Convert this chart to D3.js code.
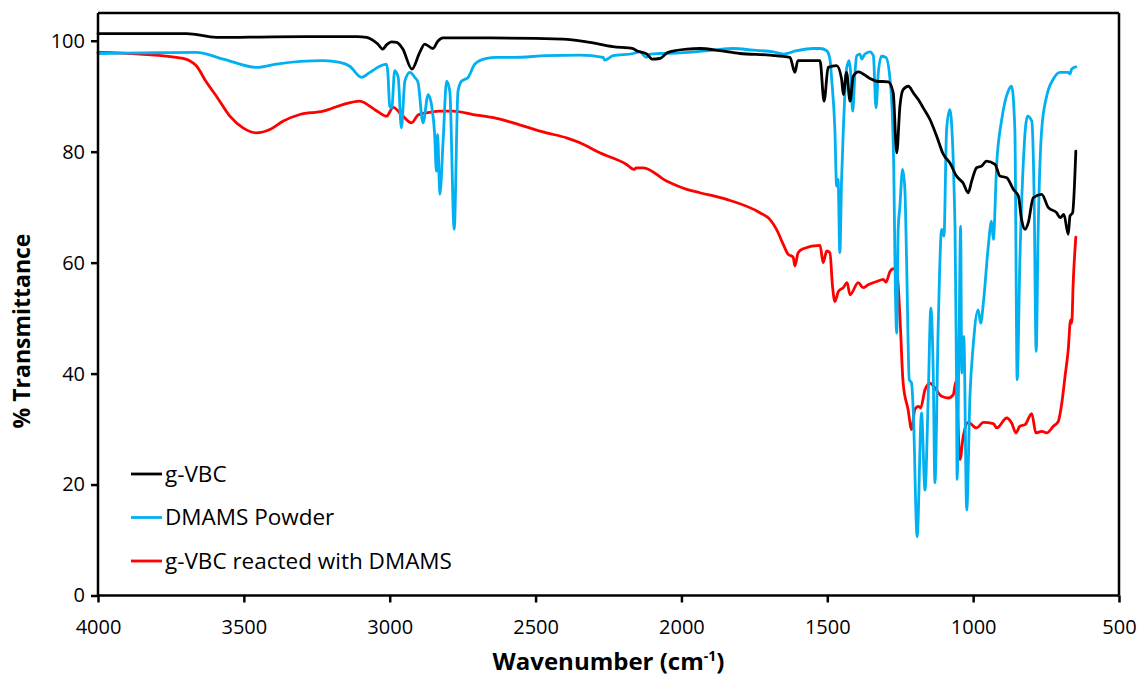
<!DOCTYPE html>
<html>
<head>
<meta charset="utf-8">
<script src="https://cdn.jsdelivr.net/npm/d3@7"></script>
<style>
  html, body { margin: 0; padding: 0; background: #fff; }
  svg { display: block; }
  text { font-family: "Open Sans", "Noto Sans", sans-serif; fill: #000; }
</style>
</head>
<body>
<svg id="chart" width="1143" height="678"></svg>
<script>
// FTIR spectra: wavenumber (cm-1) and % transmittance for each sample
const gvbcWn = [4000,3850,3696,3594,3400,3113,3079,3041,3024,3010,2993,2976,2955,2924,2897,2880,2852,2835,2818,2657,2406,2314,2235,2166,2153,2118,2101,2074,2046,1981,1937,1868,1800,1697,1628,1611,1601,1550,1525,1511,1497,1468,1451,1445,1434,1422,1411,1394,1354,1331,1291,1274,1262,1251,1240,1222,1205,1188,1171,1148,1125,1102,1080,1057,1034,1017,1005,988,971,954,925,908,885,862,845,834,822,811,794,765,742,714,702,689,674,668,659,648];
const gvbcT  = [101.3,101.3,101.3,100.6,100.7,100.75,100.6,99.4,98.5,99.3,99.8,99.7,98.5,94.9,97.9,99.4,98.6,99.9,100.5,100.5,100.3,99.7,98.95,98.6,98.2,97.6,96.7,96.8,97.9,98.5,98.6,98.2,97.7,97.4,97.0,94.3,96.4,96.4,96.4,89.1,95.2,95.5,93.1,90.3,94.3,89.1,93.6,94.4,93.2,92.7,92.6,90.6,79.8,88.2,91.2,91.8,90.6,89.4,87.9,85.8,82.8,79.5,78.0,75.6,74.3,72.6,74.7,77.1,77.4,78.3,77.7,75.6,75.3,73.2,72.0,67.8,66.0,67.2,71.7,72.3,69.9,69.0,68.1,68.7,65.1,68.4,69.0,80.1];

const dmamsWn = [4000,3850,3663,3571,3457,3388,3228,3171,3137,3097,3068,3034,3011,3006,3000,2993,2983,2971,2960,2948,2931,2914,2903,2886,2868,2857,2846,2840,2836,2828,2817,2805,2794,2779,2766,2754,2731,2708,2668,2634,2577,2462,2348,2268,2263,2234,2165,2143,2120,2108,2074,2006,1891,1822,1754,1685,1651,1605,1548,1525,1502,1491,1485,1474,1468,1463,1457,1451,1445,1434,1425,1420,1413,1405,1399,1388,1382,1371,1354,1342,1333,1325,1314,1299,1285,1276,1272,1268,1262,1257,1251,1242,1234,1228,1219,1211,1205,1192,1177,1165,1154,1145,1137,1131,1120,1108,1100,1091,1080,1062,1057,1055,1048,1043,1039,1032,1022,1011,1000,983,974,965,948,937,931,919,902,880,868,857,849,840,828,814,799,791,784,777,765,748,725,702,674,668,662,648];
const dmamsT  = [97.7,97.8,97.9,96.7,95.2,95.8,96.4,96.1,95.4,93.4,94.3,95.4,95.8,94.0,88.2,87.9,94.6,93.4,84.3,92.7,94.3,93.4,92.5,85.2,90.3,88.5,83.1,76.5,83.1,72.3,81.9,92.7,90.9,66.0,90.9,92.7,93.4,95.8,96.8,97.0,97.0,97.3,97.4,97.0,96.5,97.3,97.7,98.0,97.0,97.6,97.7,97.8,98.3,98.6,98.3,98.0,97.6,98.2,98.6,98.6,98.2,96.7,93.1,84.0,73.8,75.0,61.8,75.0,84.0,94.9,96.4,94.3,87.3,94.3,97.3,97.6,96.7,97.6,98.0,97.3,87.9,94.3,97.2,97.0,93.1,85.2,76.8,60.0,47.3,66.0,70.2,76.8,73.2,60.0,38.9,38.3,32.9,10.6,32.9,19.0,35.9,51.8,40.7,20.3,47.9,66.0,64.8,84.0,87.6,66.0,38.9,20.9,47.9,66.6,40.1,46.7,15.4,35.9,44.9,51.5,49.1,52.7,63.0,67.5,64.2,78.0,85.8,90.9,91.8,84.0,38.9,60.0,78.0,86.4,85.5,72.0,44.0,66.0,84.0,90.0,93.1,94.3,94.3,94.0,94.9,95.3];

const reactedWn = [4000,3857,3709,3686,3663,3628,3594,3548,3503,3457,3411,3366,3308,3228,3160,3103,3068,3040,3011,2988,2960,2925,2903,2874,2828,2783,2714,2634,2577,2463,2394,2348,2280,2188,2163,2154,2131,2051,1982,1937,1845,1731,1697,1674,1651,1634,1617,1611,1600,1583,1525,1514,1502,1491,1482,1474,1462,1445,1432,1422,1394,1377,1360,1331,1308,1299,1285,1274,1262,1251,1240,1223,1211,1200,1188,1180,1165,1148,1131,1108,1085,1068,1059,1053,1045,1034,1017,988,965,931,919,885,868,853,840,822,799,785,765,748,725,708,696,685,674,666,662,657,648];
const reactedT  = [97.9,97.6,96.8,96.4,95.5,92.5,90.0,86.4,84.3,83.4,84.0,85.5,86.7,87.3,88.5,89.1,88.2,87.2,86.4,88.0,86.7,85.2,86.6,87.0,87.3,87.3,86.7,86.0,85.2,83.4,82.5,81.6,79.8,77.7,76.8,77.1,77.1,74.7,73.2,72.6,71.4,69.0,67.8,66.0,63.3,61.5,61.0,59.4,61.8,62.5,63.1,60.0,62.1,61.8,55.7,53.0,54.8,55.5,56.4,54.2,56.4,55.5,56.0,56.6,57.0,56.5,58.4,58.9,58.8,50.3,38.3,33.5,29.9,33.5,34.1,33.8,37.1,38.3,37.4,35.9,35.6,36.2,38.6,32.3,24.5,28.7,31.2,30.2,31.2,31.0,30.2,32.0,31.1,29.3,30.5,30.8,32.8,29.3,29.6,29.3,30.5,31.4,34.7,39.5,44.3,49.7,49.1,56.4,64.6];

const seriesNames  = ["g-VBC", "DMAMS Powder", "g-VBC reacted with DMAMS"];
const seriesColors = ["#000000", "#00B0F0", "#FF0000"];
const xTicks = [4000, 3500, 3000, 2500, 2000, 1500, 1000, 500];
const yTicks = [0, 20, 40, 60, 80, 100];

const series = [
  { name: seriesNames[0], color: seriesColors[0], wn: gvbcWn, t: gvbcT },
  { name: seriesNames[1], color: seriesColors[1], wn: dmamsWn, t: dmamsT },
  { name: seriesNames[2], color: seriesColors[2], wn: reactedWn, t: reactedT }
];

const svg = d3.select("#chart");
const plot = { left: 98, right: 1119, top: 13, bottom: 595.5 };

const x = d3.scaleLinear().domain([4000, 500]).range([plot.left, plot.right]);
const y = d3.scaleLinear().domain([0, 105]).range([plot.bottom, plot.top]);

// spectra (drawn first, frame on top)
const line = d3.line().x(d => x(d[0])).y(d => y(d[1])).curve(d3.curveMonotoneX);
const curves = svg.append("g");
series.slice().reverse().forEach(s => {
  const pts = s.wn.map((w, i) => [w, s.t[i]]);
  curves.append("path")
    .datum(pts)
    .attr("d", line)
    .attr("fill", "none")
    .attr("stroke", s.color)
    .attr("stroke-width", 2.8)
    .attr("stroke-linejoin", "round")
    .attr("stroke-linecap", "round");
});

// frame: top and right borders
svg.append("line")
  .attr("x1", plot.left).attr("x2", plot.right)
  .attr("y1", plot.top).attr("y2", plot.top)
  .attr("stroke", "#000").attr("stroke-width", 2.5);
svg.append("line")
  .attr("x1", plot.right).attr("x2", plot.right)
  .attr("y1", plot.top).attr("y2", plot.bottom)
  .attr("stroke", "#000").attr("stroke-width", 2.5);

// axes
const xAxis = d3.axisBottom(x).tickValues(xTicks).tickSize(7).tickPadding(17).tickSizeOuter(0).tickFormat(d3.format("d"));
const yAxis = d3.axisLeft(y).tickValues(yTicks).tickSize(7).tickPadding(6).tickSizeOuter(0).tickFormat(d3.format("d"));

const gx = svg.append("g").attr("transform", `translate(0,${plot.bottom})`).call(xAxis);
const gy = svg.append("g").attr("transform", `translate(${plot.left},0)`).call(yAxis);
[gx, gy].forEach(g => {
  g.select(".domain").attr("stroke", "#000").attr("stroke-width", 2.5);
  g.selectAll(".tick line").attr("stroke", "#000").attr("stroke-width", 2.5);
  g.selectAll(".tick text").attr("font-family", "Open Sans").attr("font-size", 20).attr("fill", "#000");
});
gy.select(".domain").attr("d", `M0,${plot.bottom}V${plot.top}`);
gx.select(".domain").attr("d", `M${plot.left},0H${plot.right}`);

// axis titles
svg.append("text")
  .attr("transform", "translate(30,331) rotate(-90)")
  .attr("text-anchor", "middle")
  .attr("font-size", 23).attr("font-weight", "bold")
  .text("% Transmittance");

const xt = svg.append("text")
  .attr("x", (plot.left + plot.right) / 2)
  .attr("y", 670)
  .attr("text-anchor", "middle")
  .attr("font-size", 24).attr("font-weight", "bold");
xt.append("tspan").text("Wavenumber (cm");
xt.append("tspan").attr("font-size", 14).attr("dy", -9).text("-1");
xt.append("tspan").attr("dy", 9).text(")");

// legend
const legend = svg.append("g");
series.forEach((s, i) => {
  const ly = 474 + i * 43.5;
  legend.append("line")
    .attr("x1", 131).attr("x2", 162)
    .attr("y1", ly).attr("y2", ly)
    .attr("stroke", s.color).attr("stroke-width", 2.8);
  legend.append("text")
    .attr("x", 165).attr("y", ly)
    .attr("dy", "0.35em")
    .attr("font-size", 22.5)
    .text(s.name);
});
</script>
</body>
</html>
